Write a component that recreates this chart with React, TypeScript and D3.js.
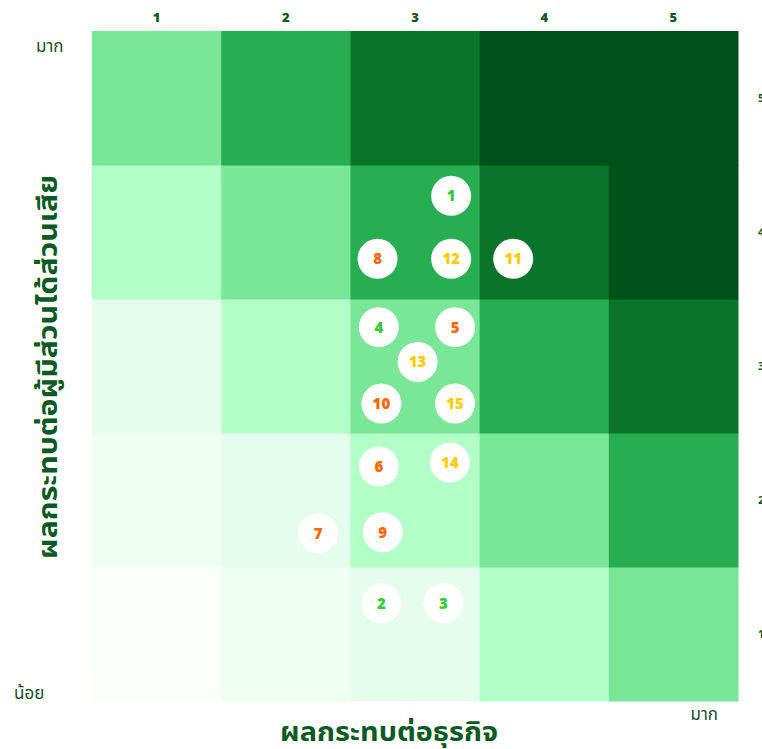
import React, { useRef, useEffect } from 'react'
import * as d3 from 'd3'

// risk matrix levels (1 = low, 5 = high)
const levels = [1, 2, 3, 4, 5]
const topTicks = ['1', '2', '3', '4', '5']
const rightTicks = ['5', '4', '3', '2', '1']

// risk items: id, business impact (x), stakeholder impact (y), group
const pointIds = [1, 2, 3, 4, 5, 6, 7, 8, 9, 10, 11, 12, 13, 14, 15]
const pointX = [3.28, 2.74, 3.22, 2.72, 3.31, 2.72, 2.25, 2.71, 2.75, 2.74, 3.76, 3.28, 3.02, 3.27, 3.31]
const pointY = [4.27, 1.23, 1.23, 3.29, 3.29, 2.25, 1.75, 3.8, 1.76, 2.72, 3.8, 3.8, 3.03, 2.28, 2.72]
const pointGroup = ['g', 'g', 'g', 'g', 'o', 'o', 'o', 'o', 'o', 'o', 'y', 'y', 'y', 'y', 'y']

const xTitle = 'ผลกระทบต่อธุรกิจ'
const yTitle = 'ผลกระทบต่อผู้มีส่วนได้ส่วนเสีย'

const App = () => {
    const svgRef = useRef<SVGSVGElement>(null)

    useEffect(() => {
        const svg = d3.select(svgRef.current)
        svg.selectAll('*').remove()

        const W = 762
        const H = 749
        const margin = { top: 31, right: 24, bottom: 48, left: 92 }
        const font = "'Noto Sans Thai', 'Noto Sans', 'DejaVu Sans', sans-serif"
        const dark = '#0b5a23'

        // fill for each cell by sum of levels
        const palette: Record<number, string> = {
            2: '#fbfffc',
            3: '#f0fff4',
            4: '#e4fdec',
            5: '#b3ffc8',
            6: '#79e698',
            7: '#27ae50',
            8: '#0a742b',
            9: '#00501a',
            10: '#00501a',
        }
        const groupColor: Record<string, string> = { g: '#33cc33', o: '#ff6600', y: '#ffcc00' }

        const xBand = d3.scaleBand<number>().domain(levels).range([margin.left, W - margin.right])
        const yBand = d3
            .scaleBand<number>()
            .domain([...levels].reverse())
            .range([margin.top, H - margin.bottom])

        const xScale = d3.scaleLinear().domain([0.5, 5.5]).range([margin.left, W - margin.right])
        const yScale = d3.scaleLinear().domain([0.5, 5.5]).range([H - margin.bottom, margin.top])

        //cells
        const cells = levels.flatMap((i) => levels.map((j) => ({ i, j })))
        svg.append('g')
            .selectAll('rect')
            .data(cells)
            .enter()
            .append('rect')
            .attr('x', (d) => xBand(d.i)!)
            .attr('y', (d) => yBand(d.j)!)
            .attr('width', xBand.bandwidth() + 0.5)
            .attr('height', yBand.bandwidth() + 0.5)
            .attr('fill', (d) => palette[d.i + d.j])

        //top ticks
        svg.append('g')
            .selectAll('text')
            .data(topTicks)
            .enter()
            .append('text')
            .attr('x', (d, k) => xBand(levels[k])! + xBand.bandwidth() / 2)
            .attr('y', 22)
            .attr('text-anchor', 'middle')
            .style('font-family', font)
            .style('font-size', '13px')
            .style('font-weight', '900')
            .attr('fill', dark)
            .text((d) => d)

        //right ticks (cut off by page edge, as in the original)
        svg.append('g')
            .selectAll('text')
            .data(rightTicks)
            .enter()
            .append('text')
            .attr('x', 758)
            .attr('y', (d, k) => yBand(levels[4 - k])! + yBand.bandwidth() / 2 + 4)
            .style('font-family', font)
            .style('font-size', '11px')
            .style('font-weight', 'bold')
            .attr('fill', dark)
            .text((d) => d)

        //points
        const pts = svg
            .append('g')
            .selectAll('g')
            .data(pointIds)
            .enter()
            .append('g')
            .attr('transform', (d, k) => `translate(${xScale(pointX[k])},${yScale(pointY[k])})`)
        pts.append('circle').attr('r', 20).attr('fill', '#ffffff')
        pts.append('text')
            .attr('text-anchor', 'middle')
            .attr('dy', '0.36em')
            .style('font-family', font)
            .style('font-size', '15px')
            .style('font-weight', '900')
            .attr('fill', (d, k) => groupColor[pointGroup[k]])
            .text((d) => d)

        //corner labels
        const corner = [
            { t: 'มาก', x: 36, y: 52, a: 'start' },
            { t: 'น้อย', x: 14, y: 699, a: 'start' },
            { t: 'มาก', x: 718, y: 720, a: 'end' },
        ]
        svg.append('g')
            .selectAll('text')
            .data(corner)
            .enter()
            .append('text')
            .attr('x', (d) => d.x)
            .attr('y', (d) => d.y)
            .attr('text-anchor', (d) => d.a)
            .style('font-family', font)
            .style('font-size', '17px')
            .attr('fill', '#1d4d2a')
            .text((d) => d.t)

        //x-axis title
        svg.append('text')
            .attr('x', 389)
            .attr('y', 741)
            .attr('text-anchor', 'middle')
            .attr('textLength', 218)
            .attr('lengthAdjust', 'spacingAndGlyphs')
            .style('font-family', font)
            .style('font-size', '27px')
            .style('font-weight', 'bold')
            .attr('fill', dark)
            .text(xTitle)

        //y-axis title
        svg.append('text')
            .attr('transform', 'translate(57, 367) rotate(-90)')
            .attr('text-anchor', 'middle')
            .attr('textLength', 384)
            .attr('lengthAdjust', 'spacingAndGlyphs')
            .style('font-family', font)
            .style('font-size', '27px')
            .style('font-weight', 'bold')
            .attr('fill', dark)
            .text(yTitle)
    }, [])

    return (
        <svg
            ref={svgRef}
            width={762}
            height={749}
            style={{ position: 'absolute', top: 0, left: 0, background: '#ffffff' }}
        />
    )
}

export default App
